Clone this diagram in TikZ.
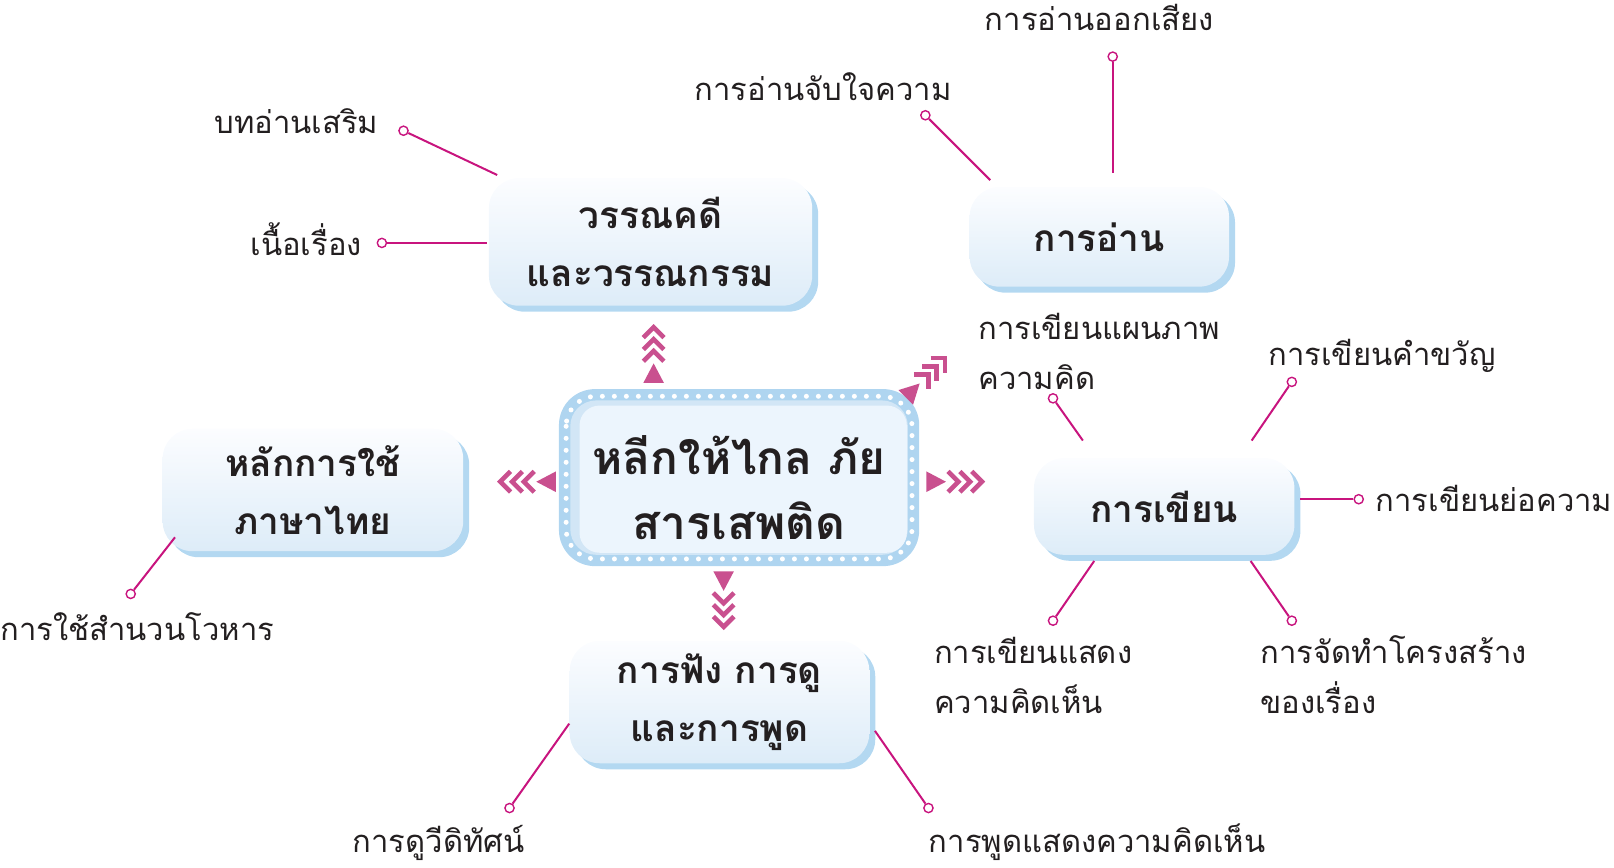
\documentclass[tikz,border=0pt]{standalone}
\usepackage{fontspec}
\newfontfamily\thai[Script=Thai]{Loma}
\usetikzlibrary{shadows}
\definecolor{txt}{HTML}{231F20}
\definecolor{lineM}{HTML}{C8147E}
\definecolor{arrP}{HTML}{C9508F}
\definecolor{shadowb}{HTML}{B3D8F1}
\definecolor{boxtop}{HTML}{FCFDFF}
\definecolor{boxbot}{HTML}{DDECF8}
\definecolor{cout}{HTML}{AFD5F0}
\definecolor{cring}{HTML}{D2E6F6}
\definecolor{cin}{HTML}{ECF5FD}
\tikzset{
  lbl/.style={font=\thai\fontsize{15.5}{24.7}\selectfont, text=txt, inner sep=0pt, align=left},
  ttl/.style={font=\thai\bfseries\fontsize{18.5}{28.8}\selectfont, text=txt, align=center},
  bx/.style 2 args={rounded corners=15pt, minimum width=#1*0.51467pt, minimum height=#2*0.51467pt,
    top color=boxtop, bottom color=boxbot, general shadow={fill=shadowb, shadow xshift=3pt, shadow yshift=-3pt}, ttl},
  conn/.style={draw=lineM, line width=1pt},
  dotn/.style={circle, draw=lineM, fill=white, line width=0.7pt, minimum size=4.6pt, inner sep=0pt},
  tarrow/.pic={
    \fill[arrP] (0,-10) -- (19,0) -- (0,10) -- cycle;
    \foreach \t in {31,42.5,54}{
      \draw[arrP, line width=2.3pt, miter limit=10] (\t-10,-10) -- (\t,0) -- (\t-10,10);
    }
  }
}
\begin{document}
\begin{tikzpicture}[x=0.51467pt,y=-0.51467pt]
\useasboundingbox (0,0) rectangle (1568,843);

% centre box
\fill[cout, rounded corners=18pt] (543,378) rectangle (893,550);
\fill[cring, rounded corners=13pt] (554,389) rectangle (882,539);
\fill[cin, rounded corners=10pt] (563,394) rectangle (881,537);
\draw[white, line width=2.5pt, line cap=round, dash pattern=on 0pt off 6pt, rounded corners=15pt] (550,385) rectangle (886,543);
\node[font=\thai\bfseries\fontsize{23}{32.4}\selectfont, text=txt, align=center] (c) at (718,474) {หลีกให้ไกล ภัย\\สารเสพติด};

% arrows
\pic[rotate=90] at (635,372) {tarrow};
\pic[rotate=-90] at (703,555) {tarrow};
\pic[rotate=180] at (540,468) {tarrow};
\pic at (900,468) {tarrow};
\pic[rotate=45] at (880,386) {tarrow};

% boxes
\node[bx={314}{124}] (lit) at (632,235) {วรรณคดี\\และวรรณกรรม};
\node[bx={252}{97}] (read) at (1068,230) {การอ่าน};
\node[bx={253}{94}] (write) at (1131,492) {การเขียน};
\node[bx={292}{119}] (use) at (304,476) {หลักการใช้\\ภาษาไทย};
\node[bx={291}{119}] (lis) at (699,682) {การฟัง การดู\\และการพูด};

% connector end points on boxes
\coordinate (e1) at (483,170);
\coordinate (e2) at (473,236);
\coordinate (e3) at (1081,168);
\coordinate (e4) at (962,175);
\coordinate (e5) at (1052,428);
\coordinate (e6) at (1216,428);
\coordinate (e7) at (1263,485);
\coordinate (e8) at (1063,545);
\coordinate (e9) at (1215,545);
\coordinate (e10) at (170,522);
\coordinate (e11) at (553,703);
\coordinate (e12) at (850,710);

% dots
\node[dotn] (d1) at (392,127) {};
\node[dotn] (d2) at (371,236) {};
\node[dotn] (d3) at (1081,55) {};
\node[dotn] (d4) at (899,112) {};
\node[dotn] (d5) at (1023,387) {};
\node[dotn] (d6) at (1255,371) {};
\node[dotn] (d7) at (1320,485) {};
\node[dotn] (d8) at (1023,603) {};
\node[dotn] (d9) at (1255,603) {};
\node[dotn] (d10) at (127,577) {};
\node[dotn] (d11) at (495,785) {};
\node[dotn] (d12) at (902,785) {};

\foreach \i in {1,...,12}{ \draw[conn] (d\i) -- (e\i); }

% labels
\node[lbl, anchor=base east] (t1) at (368,130) {บทอ่านเสริม};
\node[lbl, anchor=base east] (t2) at (352,248) {เนื้อเรื่อง};
\node[lbl, anchor=base] (t3) at (1068,30) {การอ่านออกเสียง};
\node[lbl, anchor=base east] (t4) at (925,98) {การอ่านจับใจความ};
\node[lbl, anchor=base west] (t5) at (950,378) {การเขียนแผนภาพ\\ความคิด};
\node[lbl, anchor=base west] (t6) at (1232,355) {การเขียนคำขวัญ};
\node[lbl, anchor=base west] (t7) at (1336,497) {การเขียนย่อความ};
\node[lbl, anchor=base west] (t8) at (907,693) {การเขียนแสดง\\ความคิดเห็น};
\node[lbl, anchor=base west] (t9) at (1224,693) {การจัดทำโครงสร้าง\\ของเรื่อง};
\node[lbl, anchor=base west] (t10) at (0,622) {การใช้สำนวนโวหาร};
\node[lbl, anchor=base east] (t11) at (510,828) {การดูวีดิทัศน์};
\node[lbl, anchor=base west] (t12) at (902,828) {การพูดแสดงความคิดเห็น};
\end{tikzpicture}
\end{document}
